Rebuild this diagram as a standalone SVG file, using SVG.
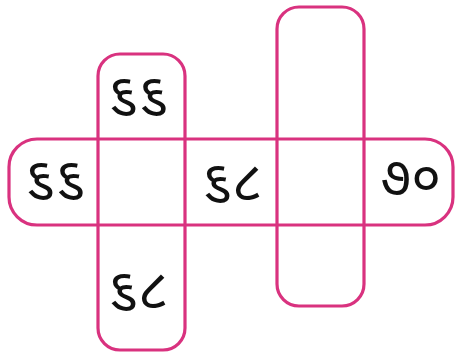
<svg xmlns="http://www.w3.org/2000/svg" width="455" height="352" viewBox="0 0 455 352">
<style>
.b{fill:none;stroke:#d9327f;stroke-width:3.2}
.t{font-family:"Noto Sans Gujarati","Noto Sans",sans-serif;font-size:55px;fill:#111;text-anchor:middle}
</style>
<rect width="455" height="352" fill="#fff"/>
<g id="row"><rect class="b" x="9" y="139" width="444" height="86" rx="28"/></g>
<g id="col1"><rect class="b" x="98" y="54" width="87" height="296" rx="22"/></g>
<g id="col2"><rect class="b" x="277" y="7" width="87" height="299" rx="22"/></g>
<g id="labels">
<text class="t" x="138" y="112">૬૬</text>
<text class="t" x="55" y="196">૬૬</text>
<text class="t" x="232" y="199">૬૮</text>
<text class="t" x="411" y="195">૭૦</text>
<text class="t" x="138" y="307">૬૮</text>
</g>
</svg>
